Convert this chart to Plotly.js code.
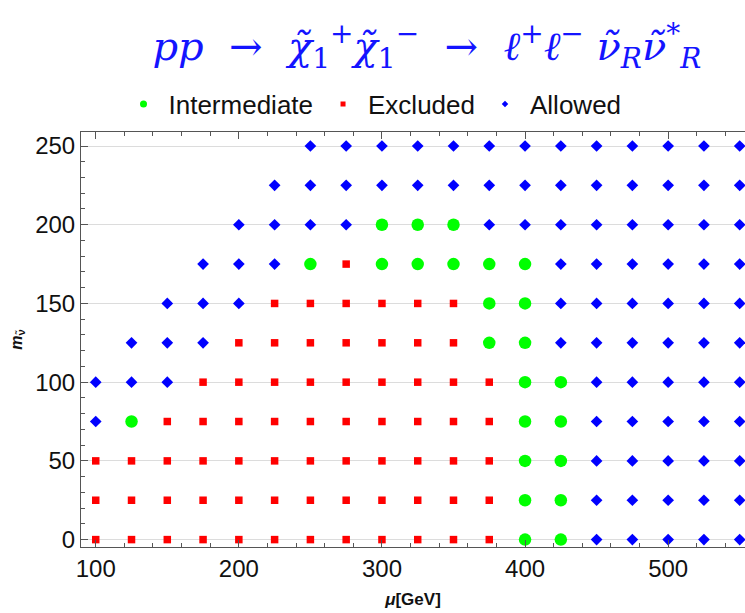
<!DOCTYPE html>
<html>
<head>
<meta charset="utf-8">
<script src="https://cdn.plot.ly/plotly-3.0.1.min.js"></script>
<style>
html,body{margin:0;padding:0;background:#fff;}
#chart{width:745px;height:613px;}
</style>
</head>
<body>
<div id="chart"></div>
<script>
// mu values (GeV) along x, sneutrino masses along y
const muValues = [100,125,150,175,200,225,250,275,300,325,350,375,400,425,450,475,500,525,550];
const mSneutrino = [0,25,50,75,100,125,150,175,200,225,250];
// status per row (same order as mSneutrino), one char per mu value:
// E = Excluded, I = Intermediate, A = Allowed, . = no point
const statusRows = [
  "EEEEEEEEEEEEIIAAAAA", // 0
  "EEEEEEEEEEEEIIAAAAA", // 25
  "EEEEEEEEEEEEIIAAAAA", // 50
  "AIEEEEEEEEEEIIAAAAA", // 75
  "AAAEEEEEEEEEIIAAAAA", // 100
  ".AAAEEEEEEEIIAAAAAA", // 125
  "..AAAEEEEEEIIAAAAAA", // 150
  "...AAAIEIIIIIAAAAAA", // 175
  "....AAAAIIIAAAAAAAA", // 200
  ".....AAAAAAAAAAAAAA", // 225
  "......AAAAAAAAAAAAA"  // 250
];
const classNames = ["Intermediate", "Excluded", "Allowed"];
const classCodes = ["I", "E", "A"];
const xTickVals = [100, 200, 300, 400, 500];
const yTickVals = [0, 50, 100, 150, 200, 250];
const xGridVals = [100, 150, 200, 250, 300, 350, 400, 450, 500, 550];

const styles = {
  I: {color: "#00ff00", symbol: "circle", size: 12.5, legSize: 7},
  E: {color: "#ff0000", symbol: "square", size: 7.5, legSize: 5},
  A: {color: "#0000ff", symbol: "diamond", size: 9, legSize: 5}
};

const traces = [];
classCodes.forEach((code, k) => {
  const xs = [], ys = [];
  statusRows.forEach((row, i) => {
    for (let j = 0; j < row.length; j++) {
      if (row[j] === code) { xs.push(muValues[j]); ys.push(mSneutrino[i]); }
    }
  });
  const st = styles[code];
  traces.push({
    type: "scatter", mode: "markers", x: xs, y: ys, name: classNames[k],
    showlegend: false, hoverinfo: "x+y+name",
    marker: {color: st.color, symbol: st.symbol, size: st.size, line: {width: 0}}
  });
});
// legend entries with small symbols
classCodes.forEach((code, k) => {
  const st = styles[code];
  traces.push({
    type: "scatter", mode: "markers", x: [null], y: [null], name: classNames[k],
    showlegend: true,
    marker: {color: st.color, symbol: st.symbol, size: st.legSize, line: {width: 0}}
  });
});

const axisFont = {family: "Liberation Sans, Arial, sans-serif", size: 24, color: "#111"};
const layout = {
  width: 745, height: 613,
  margin: {l: 81, r: 0, t: 132, b: 66},
  paper_bgcolor: "#fff", plot_bgcolor: "#fff",
  title: {
    text: "<i>pp</i>&nbsp;&nbsp;→&nbsp;&nbsp;<i>χ̃</i><sub>1</sub><sup>+</sup><i>χ̃</i><sub>1</sub><sup>−</sup>&nbsp;&nbsp;→&nbsp;&nbsp;<i>ℓ</i><sup>+</sup><i>ℓ</i><sup>−</sup>&nbsp;<i>ν̃</i><sub><i>R</i></sub><i>ν̃</i><sup>*</sup><sub><i>R</i></sub>",
    font: {family: "DejaVu Serif, serif", size: 40, color: "#1414ff"},
    x: 0.573, xref: "container", xanchor: "center",
    y: 0.925, yref: "container", yanchor: "middle"
  },
  showlegend: true,
  legend: {
    orientation: "h", xref: "container", yref: "container",
    x: 0.500, xanchor: "center", y: 0.83, yanchor: "middle",
    font: {family: "Liberation Sans, Arial, sans-serif", size: 26, color: "#111"},
    bgcolor: "rgba(0,0,0,0)", itemsizing: "trace", itemwidth: 40
  },
  xaxis: {
    range: [89.7, 553.7], tickvals: xTickVals, showgrid: false, zeroline: false,
    ticks: "inside", ticklen: 7, tickcolor: "#555", tickwidth: 1,
    minor: {dtick: 20, tick0: 100, ticks: "inside", ticklen: 4, tickcolor: "#555", showgrid: false},
    showline: true, linecolor: "#555", linewidth: 1, mirror: "ticks",
    tickfont: axisFont,
    title: {text: "<b><i>μ</i>[GeV]</b>", font: {family: "Liberation Sans, Arial, sans-serif", size: 17, color: "#111"}, standoff: 12}
  },
  xaxis2: {
    overlaying: "x", anchor: "y", range: [89.7, 553.7], tickvals: xGridVals,
    showgrid: true, gridcolor: "#dcdcdc", gridwidth: 1, zeroline: false,
    showticklabels: false, ticks: "", showline: false
  },
  yaxis: {
    range: [-4.7, 258.9], tickvals: yTickVals, showgrid: true, gridcolor: "#dcdcdc", gridwidth: 1, zeroline: false,
    ticks: "inside", ticklen: 7, tickcolor: "#555", tickwidth: 1,
    minor: {dtick: 10, tick0: 0, ticks: "inside", ticklen: 4, tickcolor: "#555", showgrid: false},
    showline: true, linecolor: "#555", linewidth: 1,
    tickfont: axisFont, ticklabelstandoff: 0,
    title: {text: "<b><i>m</i><sub>ν̃</sub></b>", font: {family: "Liberation Sans, Arial, sans-serif", size: 16, color: "#111"}, standoff: 8}
  }
};

Plotly.newPlot("chart", traces, layout, {staticPlot: true, displayModeBar: false});
</script>
</body>
</html>
